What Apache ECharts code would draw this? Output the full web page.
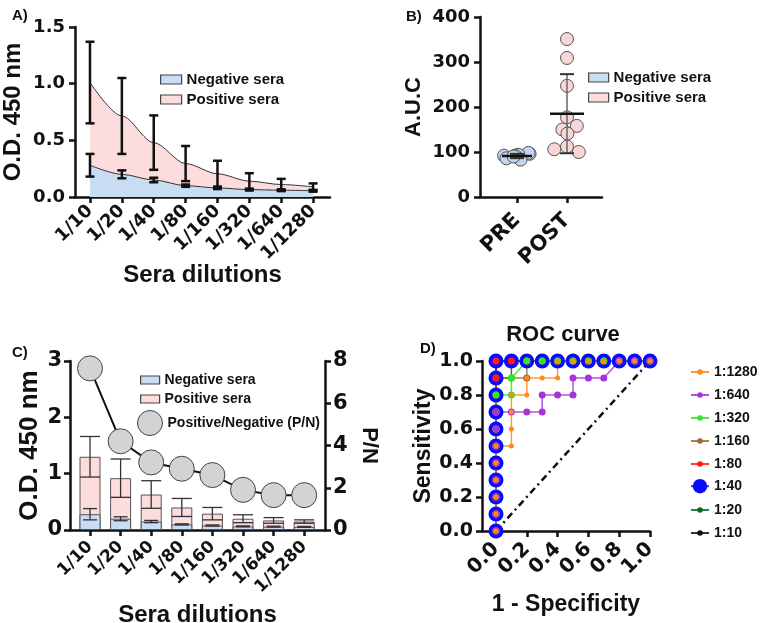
<!DOCTYPE html>
<html>
<head>
<meta charset="utf-8">
<script src="https://cdn.jsdelivr.net/npm/echarts@6/dist/echarts.min.js"></script>
<style>
  html, body { margin: 0; padding: 0; background: #fff; }
  #chart { width: 763px; height: 623px; }
</style>
</head>
<body>
<div id="chart"></div>
<script>
// ---------- data ----------
const dilutions = ['1/10', '1/20', '1/40', '1/80', '1/160', '1/320', '1/640', '1/1280']

// A) O.D. 450 nm, mean and SD
const posMeanA = [1.01, 0.715, 0.48, 0.295, 0.205, 0.14, 0.11, 0.09]
const posSdA = [0.36, 0.335, 0.24, 0.155, 0.115, 0.07, 0.05, 0.03]
const negMeanA = [0.28, 0.20, 0.15, 0.10, 0.08, 0.065, 0.06, 0.055]
const negSdA = [0.10, 0.035, 0.02, 0.01, 0.01, 0.008, 0.008, 0.008]

// B) A.U.C per serum
const groups = ['PRE', 'POST']
const aucPre = [89, 92, 96, 98, 94, 92, 86, 83, 90]
const aucPost = [351, 309, 247, 177, 150, 158, 141, 112, 106, 100]

// C) bars + P/N ratio
const posMeanC = [1.30, 0.92, 0.63, 0.40, 0.29, 0.20, 0.17, 0.15]
const posSdC = [0.36, 0.34, 0.245, 0.16, 0.11, 0.07, 0.05, 0.03]
const negMeanC = [0.28, 0.20, 0.15, 0.10, 0.08, 0.065, 0.06, 0.055]
const negSdC = [0.10, 0.035, 0.02, 0.01, 0.01, 0.008, 0.008, 0.008]
const pnRatio = [7.65, 4.2, 3.2, 2.9, 2.6, 1.9, 1.65, 1.65]

// D) ROC curves, [1 - specificity, sensitivity]
const rocTicks = [0, 0.2, 0.4, 0.6, 0.8, 1.0]
const roc1280 = [[0, 0], [0, 0.1], [0, 0.2], [0, 0.3], [0, 0.4], [0, 0.5], [0.1, 0.5], [0.1, 0.6], [0.1, 0.7], [0.1, 0.8],
  [0.2, 0.8], [0.2, 0.9], [0.3, 0.9], [0.4, 0.9], [0.4, 1], [0.5, 1], [0.6, 1], [0.7, 1], [0.8, 1], [0.9, 1], [1, 1]]
const roc640 = [[0, 0], [0, 0.1], [0, 0.2], [0, 0.3], [0, 0.4], [0, 0.5], [0, 0.6], [0, 0.7], [0.1, 0.7], [0.2, 0.7],
  [0.3, 0.7], [0.3, 0.8], [0.4, 0.8], [0.5, 0.8], [0.5, 0.9], [0.6, 0.9], [0.7, 0.9], [0.8, 1], [0.9, 1], [1, 1]]
const roc320 = [[0, 0], [0, 0.1], [0, 0.2], [0, 0.3], [0, 0.4], [0, 0.5], [0, 0.6], [0, 0.7], [0, 0.8], [0.1, 0.8],
  [0.1, 0.9], [0.2, 1], [0.3, 1], [0.4, 1], [0.5, 1], [0.6, 1], [0.7, 1], [0.8, 1], [0.9, 1], [1, 1]]
const roc160 = [[0, 0], [0, 0.1], [0, 0.2], [0, 0.3], [0, 0.4], [0, 0.5], [0, 0.6], [0, 0.7], [0, 0.8], [0, 0.9],
  [0.1, 0.9], [0.2, 0.9], [0.2, 1], [0.3, 1], [0.4, 1], [0.5, 1], [0.6, 1], [0.7, 1], [0.8, 1], [0.9, 1], [1, 1]]
const roc80 = [[0, 0], [0, 0.1], [0, 0.2], [0, 0.3], [0, 0.4], [0, 0.5], [0, 0.6], [0, 0.7], [0, 0.8], [0, 0.9],
  [0, 1], [0.1, 1], [0.2, 1], [0.3, 1], [0.4, 1], [0.5, 1], [0.6, 1], [0.7, 1], [0.8, 1], [0.9, 1], [1, 1]]
const roc40 = [[0, 0], [0, 0.1], [0, 0.2], [0, 0.3], [0, 0.4], [0, 0.5], [0, 0.6], [0, 0.7], [0, 0.8], [0, 0.9],
  [0, 1], [0.1, 1], [0.2, 1], [0.3, 1], [0.4, 1], [0.5, 1], [0.6, 1], [0.7, 1], [0.8, 1], [0.9, 1], [1, 1]]
const roc20 = [[0, 0], [0, 0.1], [0, 0.2], [0, 0.3], [0, 0.4], [0, 0.5], [0, 0.6], [0, 0.7], [0, 0.8], [0, 0.9],
  [0.1, 0.9], [0.1, 1], [0.2, 1], [0.3, 1], [0.4, 1], [0.5, 1], [0.6, 1], [0.7, 1], [0.8, 1], [0.9, 1], [1, 1]]
const roc10 = [[0, 0], [0, 0.1], [0, 0.2], [0, 0.3], [0, 0.4], [0, 0.5], [0, 0.6], [0, 0.7], [0, 0.8], [0, 0.9],
  [0, 1], [0.1, 1], [0.2, 1], [0.3, 1], [0.4, 1], [0.5, 1], [0.6, 1], [0.7, 1], [0.8, 1], [0.9, 1], [1, 1]]
const chanceLine = [[0, 0], [1, 1]]

// ---------- styles ----------
const ink = '#111'
const tickFont = 'DejaVu Sans'
const titleFont = 'Liberation Sans'
const posFill = '#fcdcdc'
const negFill = '#c8dcf3'
const catIdx = dilutions.map((d, i) => i)

function mean(a) {
  return a.reduce((s, v) => s + v, 0) / a.length
}
function sd(a) {
  const m = mean(a)
  return Math.sqrt(a.reduce((s, v) => s + (v - m) * (v - m), 0) / (a.length - 1))
}

function axisStyle(extra) {
  return Object.assign({
    axisLine: { show: true, onZero: false, lineStyle: { color: ink, width: 2.5 } },
    axisTick: { show: true, inside: false, length: 6, lineStyle: { color: ink, width: 2.5 } },
    splitLine: { show: false },
    nameLocation: 'middle',
    nameMoveOverlap: false,
    nameTextStyle: { color: ink, fontFamily: titleFont, fontWeight: 'bold', fontSize: 23 }
  }, extra)
}

function tickLabel(size, margin, more) {
  return Object.assign({ color: ink, fontFamily: tickFont, fontWeight: 'bold', fontSize: size, margin: margin }, more)
}

function errorBars(capHalf, color, width) {
  return function(params, api) {
    const x = api.value(0)
    const m = api.value(1)
    const s = api.value(2)
    const hi = api.coord([x, m + s])
    const lo = api.coord([x, m - s])
    const st = { stroke: color, lineWidth: width }
    return {
      type: 'group',
      children: [
        { type: 'line', shape: { x1: hi[0], y1: hi[1], x2: lo[0], y2: lo[1] }, style: st },
        { type: 'line', shape: { x1: hi[0] - capHalf, y1: hi[1], x2: hi[0] + capHalf, y2: hi[1] }, style: st },
        { type: 'line', shape: { x1: lo[0] - capHalf, y1: lo[1], x2: lo[0] + capHalf, y2: lo[1] }, style: st }
      ]
    }
  }
}

function meanSdRender(params, api) {
  const x = api.value(0)
  const m = api.value(1)
  const s = api.value(2)
  const c = api.coord([x, m])
  const hi = api.coord([x, m + s])
  const lo = api.coord([x, m - s])
  const half = x === 0 ? 15 : 17
  return {
    type: 'group',
    children: [
      { type: 'line', shape: { x1: hi[0], y1: hi[1], x2: lo[0], y2: lo[1] }, style: { stroke: '#666', lineWidth: 1.5 } },
      { type: 'line', shape: { x1: hi[0] - 7, y1: hi[1], x2: hi[0] + 7, y2: hi[1] }, style: { stroke: '#333', lineWidth: 2 } },
      { type: 'line', shape: { x1: lo[0] - 7, y1: lo[1], x2: lo[0] + 7, y2: lo[1] }, style: { stroke: '#333', lineWidth: 2 } },
      { type: 'line', shape: { x1: c[0] - half, y1: c[1], x2: c[0] + half, y2: c[1] }, style: { stroke: ink, lineWidth: 2.5 } }
    ]
  }
}

function rocSeries(name, data, color, size, width) {
  return {
    type: 'line',
    name: name,
    xAxisIndex: 3,
    yAxisIndex: 4,
    data: data,
    symbol: 'circle',
    symbolSize: size,
    showAllSymbol: true,
    clip: false,
    itemStyle: { color: color },
    lineStyle: { color: color, width: width, opacity: 0.85 },
    emphasis: { disabled: true }
  }
}

const legendText = { fontFamily: titleFont, fontWeight: 'bold', fontSize: 15, color: ink }
const legendText14 = { fontFamily: titleFont, fontWeight: 'bold', fontSize: 14, color: ink }
const seraItems = [
  { name: 'Negative sera', icon: 'rect', itemStyle: { color: negFill, borderColor: '#444', borderWidth: 1.2 } },
  { name: 'Positive sera', icon: 'rect', itemStyle: { color: posFill, borderColor: '#444', borderWidth: 1.2 } }
]

const chart = echarts.init(document.getElementById('chart'))

const option = {
  animation: false,
  backgroundColor: '#fff',
  graphic: [
    { type: 'text', x: 12, y: 8, style: { text: 'A)', font: 'bold 15px "Liberation Sans"', fill: ink } },
    { type: 'text', x: 406, y: 9, style: { text: 'B)', font: 'bold 15px "Liberation Sans"', fill: ink } },
    { type: 'text', x: 12, y: 345, style: { text: 'C)', font: 'bold 15px "Liberation Sans"', fill: ink } },
    { type: 'text', x: 420, y: 341, style: { text: 'D)', font: 'bold 15px "Liberation Sans"', fill: ink } },
    { type: 'text', x: 563, y: 324, style: { text: 'ROC curve', font: 'bold 22px "Liberation Sans"', fill: ink, align: 'center' } }
  ],
  grid: [
    { left: 75, top: 27, width: 255, height: 170, outerBoundsMode: 'none' },
    { left: 480, top: 17, width: 122, height: 180, outerBoundsMode: 'none' },
    { left: 70, top: 361, width: 255, height: 169, outerBoundsMode: 'none' },
    { left: 482, top: 361, width: 168, height: 170, outerBoundsMode: 'none' },
    // B data area: PRE / POST bands inside the drawn axes
    { left: 492, top: 17, width: 100, height: 180, outerBoundsMode: 'none' }
  ],
  legend: [
    { left: 160, top: 72, orient: 'vertical', padding: 0, itemWidth: 21, itemHeight: 9, itemGap: 5,
      selectedMode: false, textStyle: legendText, data: seraItems },
    { left: 588, top: 70, orient: 'vertical', padding: 0, itemWidth: 20, itemHeight: 9, itemGap: 5,
      selectedMode: false, textStyle: legendText, data: seraItems },
    { left: 140, top: 373, orient: 'vertical', padding: 0, itemWidth: 19, itemHeight: 8, itemGap: 5,
      selectedMode: false, textStyle: legendText14, data: seraItems },
    { left: 137, top: 410, orient: 'vertical', padding: 0, itemWidth: 25, itemHeight: 25,
      selectedMode: false, textStyle: legendText14,
      data: [{ name: 'Positive/Negative (P/N)', icon: 'circle', itemStyle: { color: '#d3d3d3', borderColor: '#444', borderWidth: 1 } }] },
    { left: 690, top: 365, orient: 'vertical', padding: 0, itemWidth: 18, itemHeight: 7, itemGap: 9,
      selectedMode: false, textStyle: legendText14, data: ['1:1280', '1:640', '1:320', '1:160', '1:80'] },
    { left: 690, top: 479, orient: 'vertical', padding: 0, itemWidth: 18, itemHeight: 18,
      selectedMode: false, textStyle: legendText14, data: ['1:40'] },
    { left: 690, top: 503, orient: 'vertical', padding: 0, itemWidth: 18, itemHeight: 7, itemGap: 9,
      selectedMode: false, textStyle: legendText14, data: ['1:20', '1:10'] }
  ],
  xAxis: [
    axisStyle({
      type: 'value', gridIndex: 0, min: -0.47, max: 7.53,
      axisTick: { show: true, length: 6, lineStyle: { color: ink, width: 2.5 }, customValues: catIdx },
      axisLabel: tickLabel(18, 11, { rotate: 45, customValues: catIdx, formatter: v => dilutions[v] }),
      name: 'Sera dilutions', nameGap: 66, nameTextStyle: { color: ink, fontFamily: titleFont, fontWeight: 'bold', fontSize: 24 }
    }),
    axisStyle({
      type: 'value', gridIndex: 1, min: 0, max: 1,
      axisTick: { show: false }, axisLabel: { show: false }
    }),
    axisStyle({
      type: 'value', gridIndex: 2, min: -0.654, max: 7.68,
      axisTick: { show: true, length: 6, lineStyle: { color: ink, width: 2.5 }, customValues: catIdx },
      axisLabel: tickLabel(17, 14, { rotate: 45, customValues: catIdx, formatter: v => dilutions[v] }),
      name: 'Sera dilutions', nameGap: 73, nameTextStyle: { color: ink, fontFamily: titleFont, fontWeight: 'bold', fontSize: 24 }
    }),
    axisStyle({
      type: 'value', gridIndex: 3, min: -0.0909, max: 1,
      axisTick: { show: true, length: 6, lineStyle: { color: ink, width: 2.5 }, customValues: rocTicks },
      axisLabel: tickLabel(20, 15, { rotate: 45, customValues: rocTicks, formatter: v => v.toFixed(1) }),
      name: '1 - Specificity', nameGap: 62
    }),
    axisStyle({
      type: 'category', gridIndex: 4, data: groups, jitter: 26, jitterOverlap: false, jitterMargin: 0,
      axisLine: { show: false },
      axisTick: { show: true, alignWithLabel: true, length: 6, lineStyle: { color: ink, width: 2.5 } },
      axisLabel: tickLabel(21, 20, { rotate: 45 })
    })
  ],
  yAxis: [
    axisStyle({
      type: 'value', gridIndex: 0, min: 0, max: 1.5, interval: 0.5,
      axisLabel: tickLabel(18, 10, { formatter: v => v.toFixed(1) }),
      name: 'O.D. 450 nm', nameRotate: 90, nameGap: 50,
      nameTextStyle: { color: ink, fontFamily: titleFont, fontWeight: 'bold', fontSize: 24 }
    }),
    axisStyle({
      type: 'value', gridIndex: 1, min: 0, max: 400, interval: 100,
      axisLabel: tickLabel(18, 10),
      name: 'A.U.C', nameRotate: 90, nameGap: 55,
      nameTextStyle: { color: ink, fontFamily: titleFont, fontWeight: 'bold', fontSize: 22 }
    }),
    axisStyle({
      type: 'value', gridIndex: 2, min: 0, max: 3, interval: 1,
      axisLabel: tickLabel(21, 8),
      name: 'O.D. 450 nm', nameRotate: 90, nameGap: 27,
      nameTextStyle: { color: ink, fontFamily: titleFont, fontWeight: 'bold', fontSize: 26 }
    }),
    axisStyle({
      type: 'value', gridIndex: 2, position: 'right', min: 0, max: 8, interval: 2,
      axisLabel: tickLabel(21, 8),
      name: 'P/N', nameRotate: -90, nameGap: 33,
      nameTextStyle: { color: ink, fontFamily: titleFont, fontWeight: 'bold', fontSize: 22 }
    }),
    axisStyle({
      type: 'value', gridIndex: 3, min: 0, max: 1, interval: 0.2,
      axisLabel: tickLabel(19, 9, { formatter: v => v.toFixed(1) }),
      name: 'Sensitivity', nameRotate: 90, nameGap: 47
    }),
    {
      type: 'value', gridIndex: 4, min: 0, max: 400, show: false
    }
  ],
  series: [
    // A
    {
      type: 'line', name: 'Positive sera', xAxisIndex: 0, yAxisIndex: 0,
      data: posMeanA.map((v, i) => [i, v]), smooth: 0.3, smoothMonotone: 'x', symbol: 'none', clip: false,
      lineStyle: { color: '#333', width: 1 }, areaStyle: { color: posFill, opacity: 1 }, z: 2
    },
    {
      type: 'line', name: 'Negative sera', xAxisIndex: 0, yAxisIndex: 0,
      data: negMeanA.map((v, i) => [i, v]), smooth: 0.3, smoothMonotone: 'x', symbol: 'none', clip: false,
      lineStyle: { color: '#333', width: 1 }, areaStyle: { color: negFill, opacity: 1 }, z: 3
    },
    {
      type: 'custom', xAxisIndex: 0, yAxisIndex: 0, encode: { x: 0, y: 1 }, z: 5,
      data: posMeanA.map((v, i) => [i, v, posSdA[i]]), renderItem: errorBars(4.5, ink, 2.5)
    },
    {
      type: 'custom', xAxisIndex: 0, yAxisIndex: 0, encode: { x: 0, y: 1 }, z: 5,
      data: negMeanA.map((v, i) => [i, v, negSdA[i]]), renderItem: errorBars(4.5, ink, 2.5)
    },
    // B
    {
      type: 'scatter', name: 'Negative sera', xAxisIndex: 4, yAxisIndex: 5,
      data: aucPre.map(v => [groups[0], v]), symbolSize: 13, clip: false,
      itemStyle: { color: '#c0d6ee', borderColor: '#555', borderWidth: 1, opacity: 1 }
    },
    {
      type: 'scatter', name: 'Positive sera', xAxisIndex: 4, yAxisIndex: 5,
      data: aucPost.map(v => [groups[1], v]), symbolSize: 13, clip: false,
      itemStyle: { color: '#f9d6d6', borderColor: '#555', borderWidth: 1, opacity: 1 }
    },
    {
      type: 'custom', xAxisIndex: 4, yAxisIndex: 5, encode: { x: 0, y: 1 }, z: 5, clip: false,
      data: [[0, mean(aucPre), sd(aucPre)], [1, mean(aucPost), sd(aucPost)]], renderItem: meanSdRender
    },
    // C
    {
      type: 'bar', name: 'Positive sera', xAxisIndex: 2, yAxisIndex: 2, barWidth: 21, barGap: '-100%',
      data: posMeanC.map((v, i) => [i, v]), itemStyle: { color: posFill, borderColor: '#555', borderWidth: 1 }
    },
    {
      type: 'bar', name: 'Negative sera', xAxisIndex: 2, yAxisIndex: 2, barWidth: 21, barGap: '-100%',
      data: negMeanC.map((v, i) => [i, v]), itemStyle: { color: negFill, borderColor: '#555', borderWidth: 1 }
    },
    {
      type: 'custom', xAxisIndex: 2, yAxisIndex: 2, encode: { x: 0, y: 1 }, z: 5,
      data: posMeanC.map((v, i) => [i, v, posSdC[i]]), renderItem: errorBars(10, '#333', 1.3)
    },
    {
      type: 'custom', xAxisIndex: 2, yAxisIndex: 2, encode: { x: 0, y: 1 }, z: 5,
      data: negMeanC.map((v, i) => [i, v, negSdC[i]]), renderItem: errorBars(7, '#333', 1.3)
    },
    {
      type: 'line', name: 'Positive/Negative (P/N)', xAxisIndex: 2, yAxisIndex: 3, z: 6, clip: false,
      data: pnRatio.map((v, i) => [i, v]), symbol: 'circle', symbolSize: 25,
      itemStyle: { color: '#d3d3d3', borderColor: '#444', borderWidth: 1 },
      lineStyle: { color: ink, width: 2 }
    },
    // D
    {
      type: 'line', name: 'chance', xAxisIndex: 3, yAxisIndex: 4, data: chanceLine, symbol: 'none', clip: false,
      lineStyle: { color: ink, width: 2.5, type: [7, 4, 2, 4] }
    },
    rocSeries('1:40', roc40, '#0a0aff', 15, 2),
    rocSeries('1:10', roc10, '#111111', 5, 1.5),
    rocSeries('1:20', roc20, '#0b6a1c', 6, 1.5),
    rocSeries('1:160', roc160, '#9b6a34', 7, 1.5),
    rocSeries('1:80', roc80, '#ff1a1a', 7, 1.5),
    rocSeries('1:320', roc320, '#2ae82a', 7, 1.5),
    rocSeries('1:640', roc640, '#a634d8', 7, 1.5),
    rocSeries('1:1280', roc1280, '#ff8a1c', 5, 1.5)
  ]
}

chart.setOption(option)
</script>
</body>
</html>
